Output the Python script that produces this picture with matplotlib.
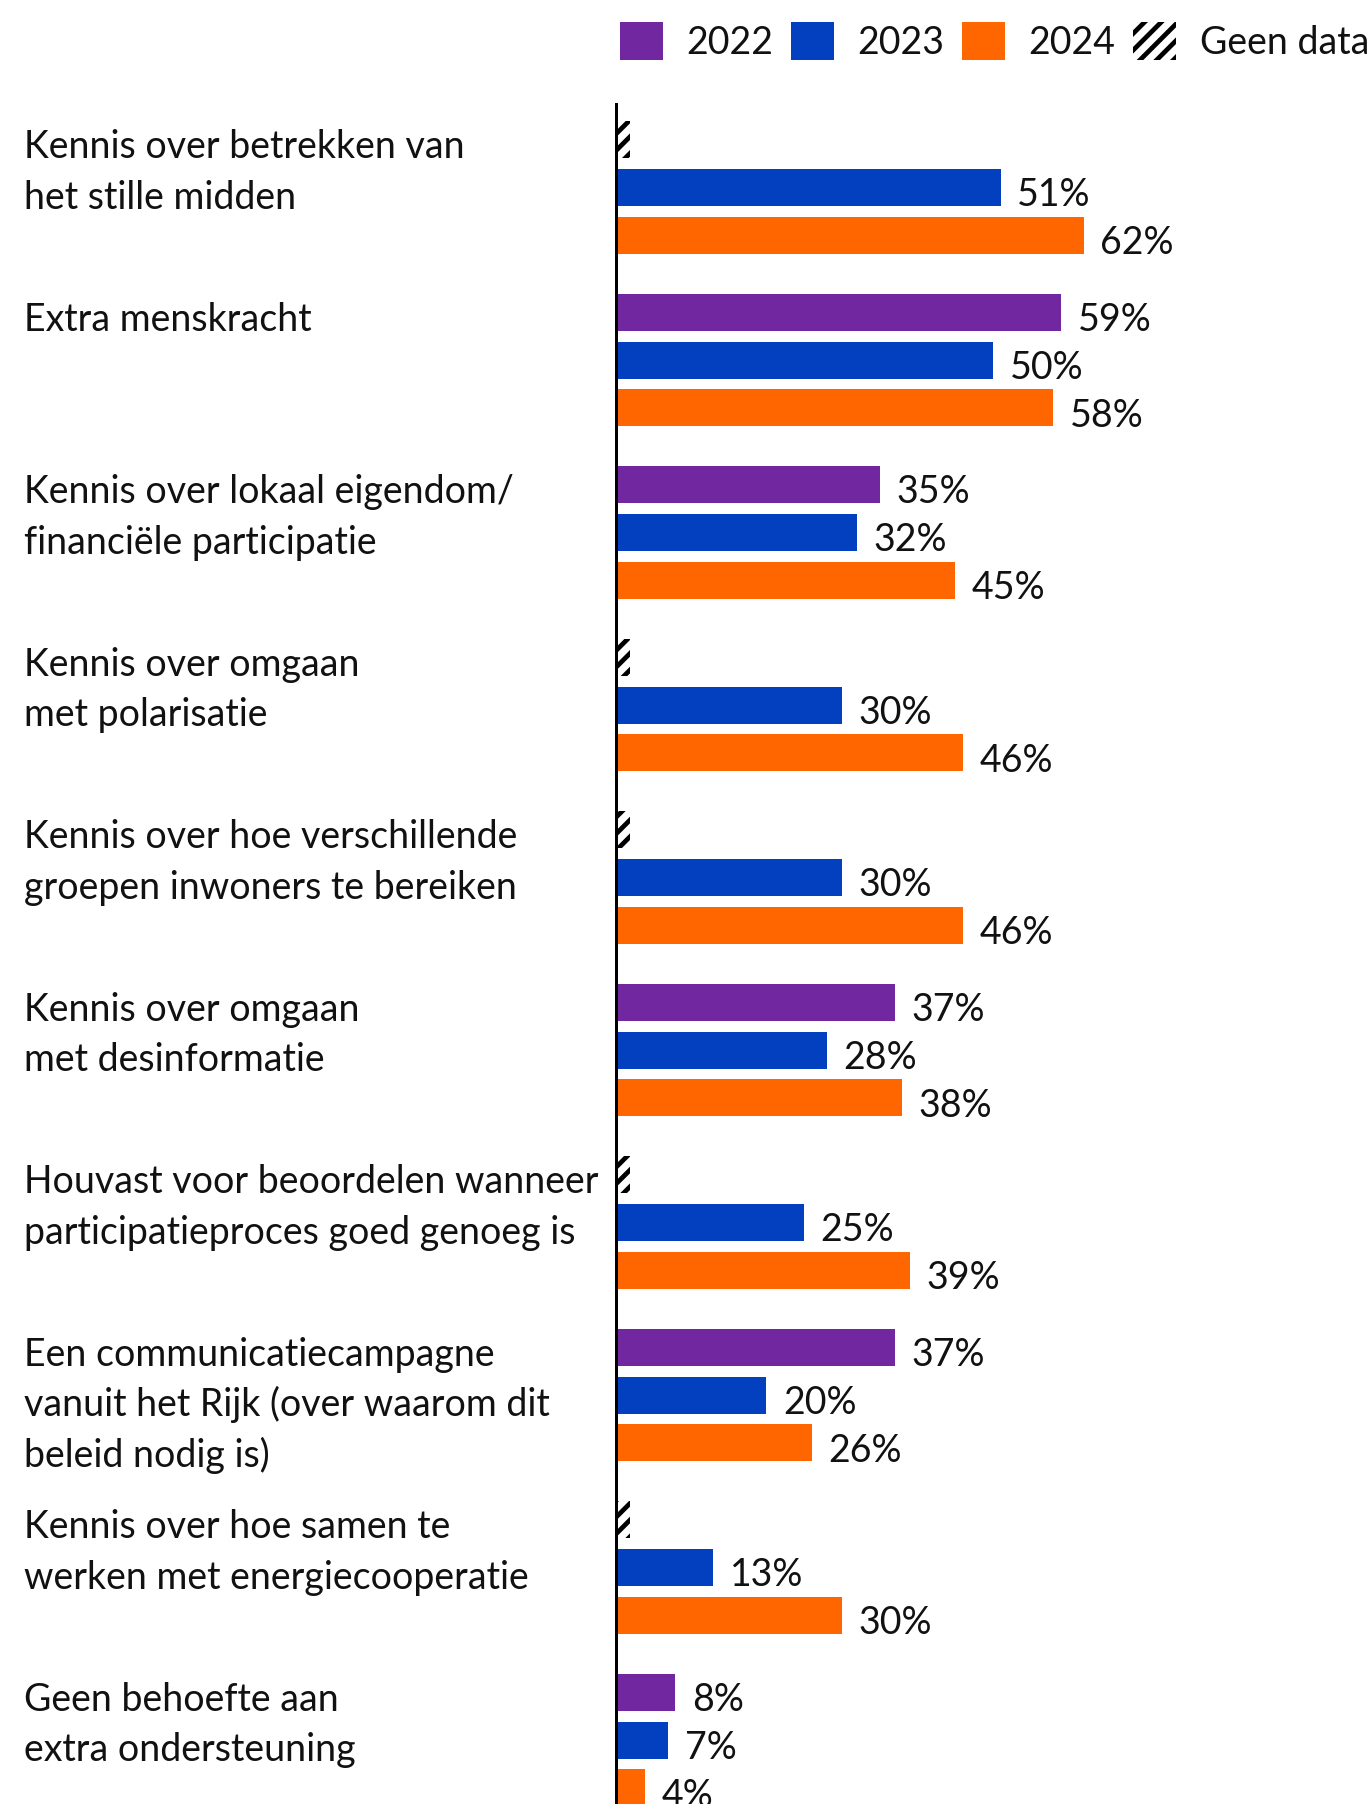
import matplotlib
matplotlib.use('Agg')
import matplotlib.pyplot as plt
import matplotlib.transforms as mtransforms
from matplotlib.patches import Patch

# ---------------- data ----------------
categories = [
    "Kennis over betrekken van\nhet stille midden",
    "Extra menskracht",
    "Kennis over lokaal eigendom/\nfinanciële participatie",
    "Kennis over omgaan\nmet polarisatie",
    "Kennis over hoe verschillende\ngroepen inwoners te bereiken",
    "Kennis over omgaan\nmet desinformatie",
    "Houvast voor beoordelen wanneer\nparticipatieproces goed genoeg is",
    "Een communicatiecampagne\nvanuit het Rijk (over waarom dit\nbeleid nodig is)",
    "Kennis over hoe samen te\nwerken met energiecooperatie",
    "Geen behoefte aan\nextra ondersteuning",
]
years = ["2022", "2023", "2024"]
v2022 = [None, 59, 35, None, None, 37, None, 37, None, 8]
v2023 = [51, 50, 32, 30, 30, 28, 25, 20, 13, 7]
v2024 = [62, 58, 45, 46, 46, 38, 39, 26, 30, 4]
no_data_label = "Geen data"

colors = ["#7127A0", "#0340C0", "#FF6600"]
text_color = "#111111"

plt.rcParams['font.family'] = ['Lato', 'DejaVu Sans']
plt.rcParams['hatch.linewidth'] = 3.4

W, H = 1371, 1804
fig = plt.figure(figsize=(W / 100, H / 100), dpi=100)
ax = fig.add_axes([615 / W, 0, (W - 615) / W, (H - 103) / H])

series = [v2022, v2023, v2024]
step = 0.278
bar_h = 0.2145
fs = 27

for s, (vals, col) in enumerate(zip(series, colors)):
    off = (s - 1) * step
    for i, v in enumerate(vals):
        y = i + off
        if v is None:
            ax.barh(y, 2.0, height=bar_h, left=0, facecolor='white',
                    edgecolor='black', hatch='//', linewidth=0, zorder=2)
        else:
            ax.barh(y, v, height=bar_h, left=0, color=col, linewidth=0, zorder=2)
            ax.text(v + 2.2, y + 0.108, f"{v}%", ha='left', va='baseline',
                    fontsize=fs, color=text_color)

ax.axvline(0, color='black', lw=3.6, zorder=3)
ax.set_xlim(0, 100)
ax.set_ylim(9.371, -0.4899)
ax.axis('off')

# category labels
trans = mtransforms.blended_transform_factory(fig.transFigure, ax.transData)
line_step = 0.2933
for i, lab in enumerate(categories):
    for k, line in enumerate(lab.split("\n")):
        ax.text(24 / W, i - step + 0.107 + k * line_step, line, transform=trans,
                ha='left', va='baseline', fontsize=fs, color=text_color,
                clip_on=False)

# legend
handles = [Patch(facecolor=c, label=y, linewidth=0) for y, c in zip(years, colors)]
handles.append(Patch(facecolor='white', edgecolor='black', hatch='//', linewidth=0,
                     label=no_data_label))
fig.legend(handles=handles, loc='center right', bbox_to_anchor=(1369 / W, 1 - 41.5 / H),
           ncol=4, frameon=False, fontsize=fs, handlelength=1.17, handleheight=1.15,
           handletextpad=0.62, columnspacing=0.45, borderaxespad=0, borderpad=0,
           labelcolor=text_color)

fig.savefig("out.png", dpi=100)
